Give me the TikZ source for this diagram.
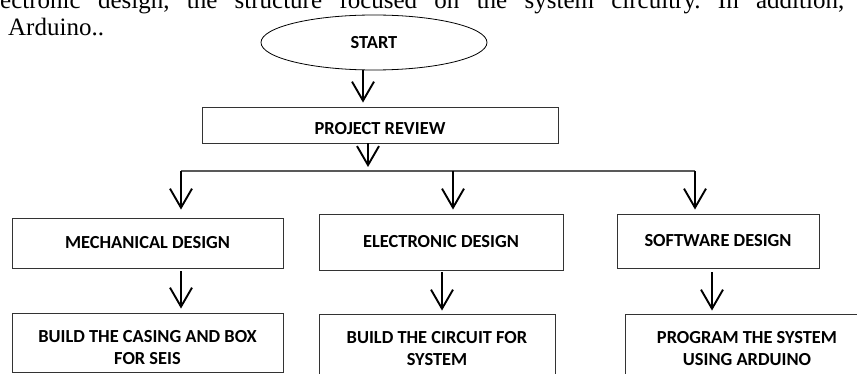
\documentclass[tikz,border=0pt]{standalone}
\usepackage{fontspec}
\newfontfamily\boxfont{Carlito}
\newfontfamily\parafont{Liberation Serif}
\usetikzlibrary{arrows.meta,shapes.geometric}
\frenchspacing
\begin{document}
\begin{tikzpicture}[x=1pt,y=-1pt,
  bfont/.style={font=\boxfont\bfseries\fontsize{18.4}{22}\selectfont},
  bx/.style={draw=black!80, line width=0.9pt, rectangle, inner sep=0pt, bfont, align=center},
  txt/.style={inner sep=0pt, bfont, align=center},
  arr/.style={line width=1.9pt, -{Straight Barb[length=19pt,width=22pt]}},
  bus/.style={draw=black!65, line width=1.2pt},
  para/.style={inner sep=0pt, anchor=base west, font=\parafont\fontsize{25}{30}\selectfont}
]
\useasboundingbox (0,0) rectangle (857,374);
\fill[white] (0,0) rectangle (857,374);

% surrounding paragraph text (partly cut off, as in the source page)
\node[para] (line1) at (-18,8.5) {\makebox[862pt][s]{electronic design, the structure focused on the system circuitry. In addition,}};
\node[para] (line2) at (8,36) {Arduino..};

% nodes
\node[draw=black, ellipse, line width=0.8pt, minimum width=226pt, minimum height=55pt, inner sep=0pt, bfont] (start) at (374,42.5) {START};
\node[bx, minimum width=356pt, minimum height=36pt, label={[txt,yshift=-4pt]center:PROJECT REVIEW}] (review) at (380,125) {};

\node[bx, minimum width=271pt, minimum height=50pt] (mech) at (147.5,243) {MECHANICAL DESIGN};
\node[bx, minimum width=244pt, minimum height=56pt] (elec) at (441,242) {ELECTRONIC DESIGN};
\node[bx, minimum width=202pt, minimum height=54pt] (soft) at (718,241) {SOFTWARE DESIGN};

\node[bx, minimum width=271pt, minimum height=59pt, label={[txt,yshift=-5.5pt]center:BUILD THE CASING AND BOX\\FOR SEIS}] (casing) at (147.5,342.5) {};
\node[bx, minimum width=236pt, minimum height=69pt] (circuit) at (437,348.5) {BUILD THE CIRCUIT FOR\\SYSTEM};
\node[bx, minimum width=244pt, minimum height=69pt] (program) at (747,348.5) {PROGRAM THE SYSTEM\\USING ARDUINO};

% bus coordinates
\coordinate (busL) at (181,171);
\coordinate (busE) at (453,171);
\coordinate (busR) at (695,171);

% connectors
\draw[arr, shorten >=4pt] ([xshift=-11pt]start.south) -- ([xshift=-17pt]review.north);
\draw[arr, shorten >=4pt] ([xshift=-12pt]review.south) -- ([xshift=-12pt]review.south |- busL);
\draw[bus] (busL) -- (busR);
\draw[arr, shorten >=8pt] (busL) -- (busL |- mech.north);
\draw[arr, shorten >=4pt] (busE) -- (busE |- elec.north);
\draw[arr, shorten >=4pt] (busR) -- (busR |- soft.north);

\draw[arr, shorten <=3pt, shorten >=4pt] (busL |- mech.south) -- (busL |- casing.north);
\draw[arr, shorten <=2pt, shorten >=3pt] ([xshift=1pt]elec.south) -- ([xshift=1pt]elec.south |- circuit.north);
\draw[arr, shorten <=4pt, shorten >=3pt] ([xshift=-6pt]soft.south) -- ([xshift=-6pt]soft.south |- program.north);
\end{tikzpicture}
\end{document}
